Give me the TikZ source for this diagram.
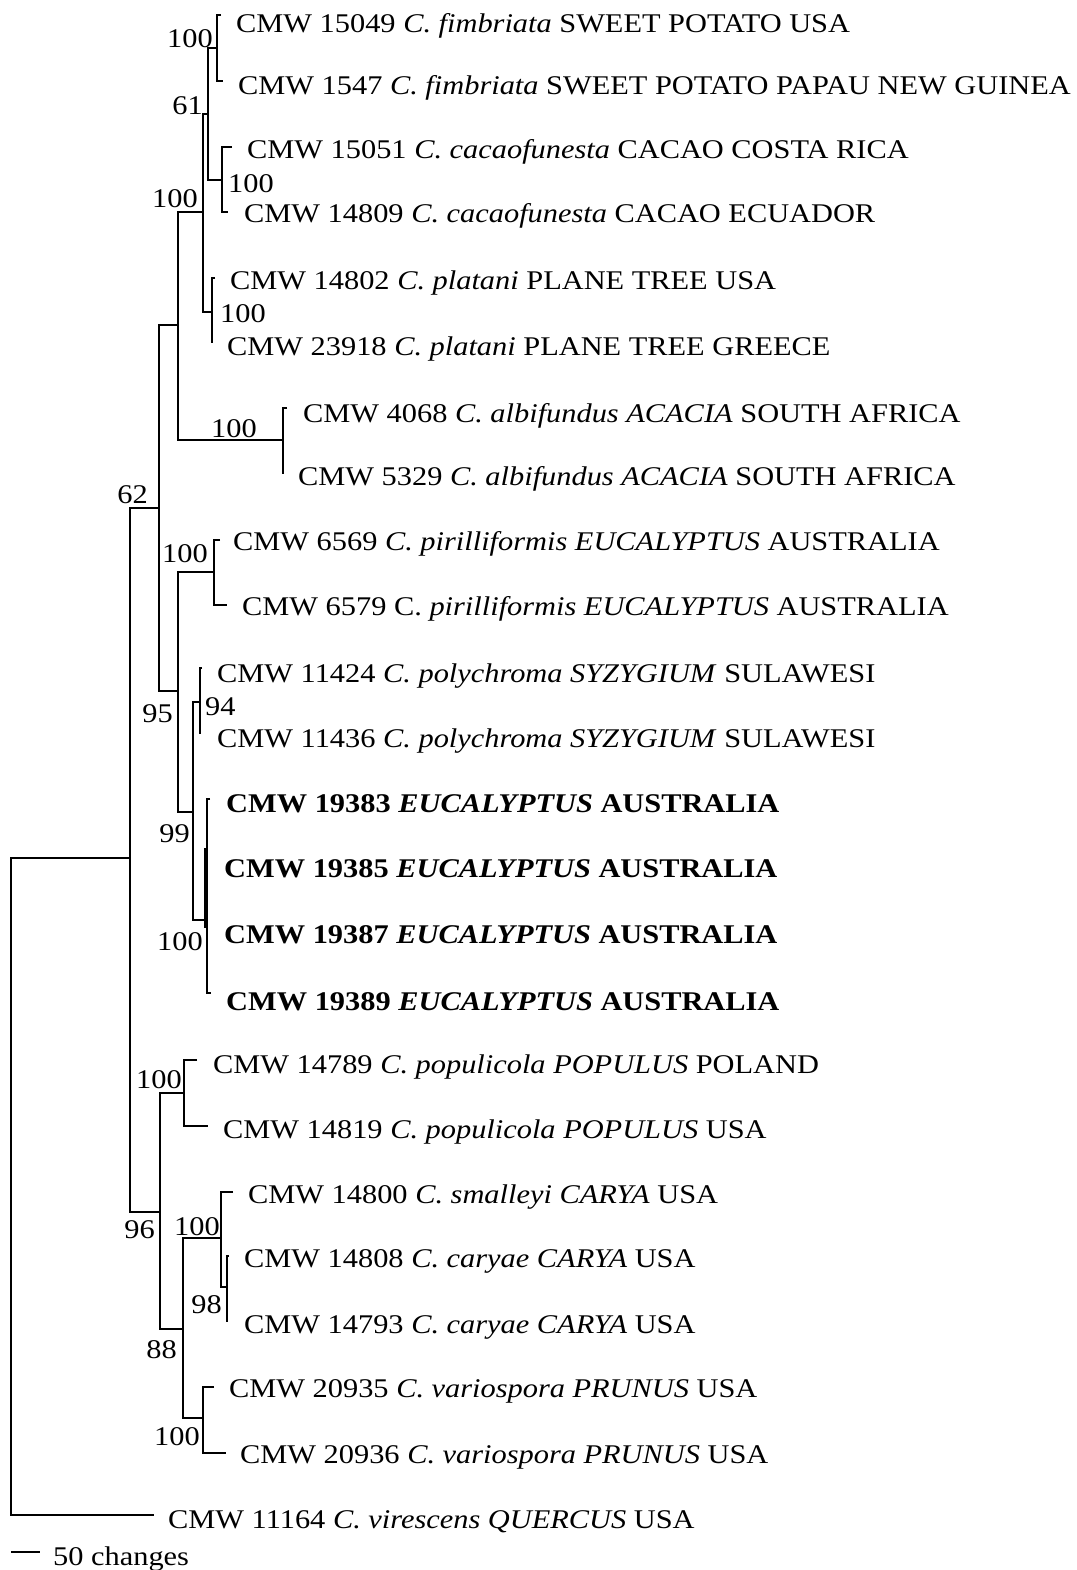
\documentclass[tikz,border=0pt]{standalone}
\usepackage{fontspec}
\setmainfont{Liberation Serif}[FakeStretch=1.125]
\begin{document}
\begin{tikzpicture}[x=1pt,y=-1pt,
  br/.style={line width=2pt,line cap=butt},
  leaf/.style={anchor=base west,inner sep=0pt,font=\fontsize{27}{30}\selectfont},
  supL/.style={anchor=base east,inner sep=0pt,font=\fontsize{27}{30}\selectfont},
  supR/.style={anchor=base west,inner sep=0pt,font=\fontsize{27}{30}\selectfont},
  supC/.style={anchor=base,inner sep=0pt,font=\fontsize{27}{30}\selectfont}]
\useasboundingbox (0,0) rectangle (1076,1570);
% tips
\coordinate (t1) at (221,15);
\coordinate (t2) at (223,81);
\coordinate (t3) at (232,147);
\coordinate (t4) at (228,212);
\coordinate (t5) at (215,278);
\coordinate (t6) at (212.5,342);
\coordinate (t7) at (287,408);
\coordinate (t8) at (283.5,473);
\coordinate (t9) at (220,540);
\coordinate (t10) at (227,605);
\coordinate (t11) at (202,668);
\coordinate (t12) at (201,733);
\coordinate (t13) at (210,799);
\coordinate (t16) at (211,993);
\coordinate (e14) at (205.8,848);
\coordinate (e15) at (205.8,928);
\coordinate (t17) at (197,1060);
\coordinate (t18) at (208,1126);
\coordinate (t19) at (233,1192);
\coordinate (t20) at (229,1256);
\coordinate (t21) at (228,1321);
\coordinate (t22) at (214,1387);
\coordinate (t23) at (226,1453);
\coordinate (t24) at (154,1515);
% internal nodes
\coordinate (nA) at (216.7,48);
\coordinate (nB) at (221.7,180);
\coordinate (n61) at (208,114);
\coordinate (nC) at (212,312);
\coordinate (nTop) at (203,212);
\coordinate (nD) at (283,440);
\coordinate (nP) at (178,325);
\coordinate (nE) at (214,572);
\coordinate (nF) at (200,702);
\coordinate (nG) at (207,920);
\coordinate (n99) at (193,812);
\coordinate (n95) at (178,691);
\coordinate (n62) at (159,508);
\coordinate (nH) at (184,1093);
\coordinate (n98) at (227,1287);
\coordinate (nI) at (221,1238);
\coordinate (nJ) at (203,1418);
\coordinate (n88) at (183,1329);
\coordinate (n96) at (160,1212);
\coordinate (nK) at (130,858);
\coordinate (root) at (11,858);
% branches
\draw[br] (t1) -| (nA) |- (t2);
\draw[br] (t3) -| (nB) |- (t4);
\draw[br] (nA) -| (n61) |- (nB);
\draw[br] (t5) -| (nC) |- (t6);
\draw[br] (n61) -| (nTop) |- (nC);
\draw[br] (t7) -| (nD) |- (t8);
\draw[br] (nTop) -| (nP) |- (nD);
\draw[br] (t9) -| (nE) |- (t10);
\draw[br] (t11) -| (nF) |- (t12);
\draw[br] (t13) -| (nG) |- (t16);
\draw[line width=3pt] (e14) -- (e15);
\draw[br] (nF) -| (n99) |- (nG);
\draw[br] (nE) -| (n95) |- (n99);
\draw[br] (nP) -| (n62) |- (n95);
\draw[br] (t17) -| (nH) |- (t18);
\draw[br] (t20) -| (n98) |- (t21);
\draw[br] (t19) -| (nI) |- (n98);
\draw[br] (t22) -| (nJ) |- (t23);
\draw[br] (nI) -| (n88) |- (nJ);
\draw[br] (nH) -| (n96) |- (n88);
\draw[br] (n62) -| (nK) |- (n96);
\draw[br] (nK) -| (root) |- (t24);
% support values
\node[supL] (s1) at (213,48) {100};
\node[supL] (s2) at (203,115) {61};
\node[supR] (s3) at (228,193) {100};
\node[supL] (s4) at (198,208) {100};
\node[supR] (s5) at (220,322) {100};
\node[supC] (s6) at (234,437) {100};
\node[supL] (s7) at (148,503) {62};
\node[supL] (s8) at (208,562) {100};
\node[supR] (s9) at (205,715) {94};
\node[supL] (s10) at (173,722) {95};
\node[supL] (s11) at (190,842) {99};
\node[supL] (s12) at (203,950) {100};
\node[supL] (s13) at (182,1088) {100};
\node[supL] (s14) at (155,1238) {96};
\node[supL] (s15) at (220,1235) {100};
\node[supL] (s16) at (222,1313) {98};
\node[supL] (s17) at (177,1358) {88};
\node[supL] (s18) at (200,1445) {100};
% leaf labels
\node[leaf] (l1) at (236,33) {CMW 15049 \textit{C. fimbriata} SWEET POTATO USA};
\node[leaf] (l2) at (238,95) {CMW 1547 \textit{C. fimbriata} SWEET POTATO PAPAU NEW GUINEA};
\node[leaf] (l3) at (247,159) {CMW 15051 \textit{C. cacaofunesta} CACAO COSTA RICA};
\node[leaf] (l4) at (244,223) {CMW 14809 \textit{C. cacaofunesta} CACAO ECUADOR};
\node[leaf] (l5) at (230,289) {CMW 14802 \textit{C. platani} PLANE TREE USA};
\node[leaf] (l6) at (227,355) {CMW 23918 \textit{C. platani} PLANE TREE GREECE};
\node[leaf] (l7) at (303,422) {CMW 4068 \textit{C. albifundus ACACIA} SOUTH AFRICA};
\node[leaf] (l8) at (298,485) {CMW 5329 \textit{C. albifundus ACACIA} SOUTH AFRICA};
\node[leaf] (l9) at (233,550) {CMW 6569 \textit{C. pirilliformis EUCALYPTUS} AUSTRALIA};
\node[leaf] (l10) at (242,615) {CMW 6579 C. \textit{pirilliformis EUCALYPTUS} AUSTRALIA};
\node[leaf] (l11) at (217,682) {CMW 11424 \textit{C. polychroma SYZYGIUM} SULAWESI};
\node[leaf] (l12) at (217,747) {CMW 11436 \textit{C. polychroma SYZYGIUM} SULAWESI};
\node[leaf] (l13) at (226,812) {\textbf{CMW 19383 \textit{EUCALYPTUS} AUSTRALIA}};
\node[leaf] (l14) at (224,877) {\textbf{CMW 19385 \textit{EUCALYPTUS} AUSTRALIA}};
\node[leaf] (l15) at (224,943) {\textbf{CMW 19387 \textit{EUCALYPTUS} AUSTRALIA}};
\node[leaf] (l16) at (226,1010) {\textbf{CMW 19389 \textit{EUCALYPTUS} AUSTRALIA}};
\node[leaf] (l17) at (213,1073) {CMW 14789 \textit{C. populicola POPULUS} POLAND};
\node[leaf] (l18) at (223,1138) {CMW 14819 \textit{C. populicola POPULUS} USA};
\node[leaf] (l19) at (248,1203) {CMW 14800 \textit{C. smalleyi CARYA} USA};
\node[leaf] (l20) at (244,1267) {CMW 14808 \textit{C. caryae CARYA} USA};
\node[leaf] (l21) at (244,1333) {CMW 14793 \textit{C. caryae CARYA} USA};
\node[leaf] (l22) at (229,1397) {CMW 20935 \textit{C. variospora PRUNUS} USA};
\node[leaf] (l23) at (240,1463) {CMW 20936 \textit{C. variospora PRUNUS} USA};
\node[leaf] (l24) at (168,1528) {CMW 11164 \textit{C. virescens QUERCUS} USA};
% scale bar
\coordinate (sb1) at (11,1552);
\coordinate (sb2) at (40,1552);
\draw[br] (sb1) -- (sb2);
\node[leaf] (sbl) at (53,1565) {50 changes};
\end{tikzpicture}
\end{document}
